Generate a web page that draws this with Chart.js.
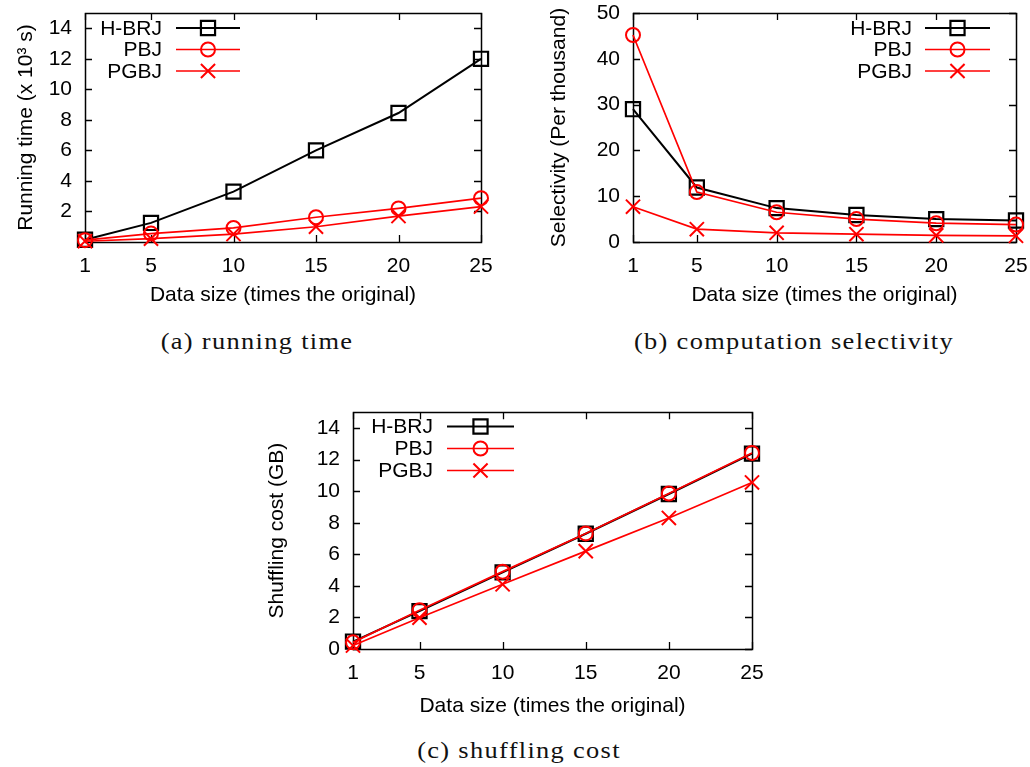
<!DOCTYPE html>
<html>
<head>
<meta charset="utf-8">
<script src="https://cdn.jsdelivr.net/npm/chart.js@4.4.1/dist/chart.umd.min.js"></script>
<style>
  html, body { margin: 0; padding: 0; background: #fff; }
  body { width: 1030px; height: 767px; position: relative; overflow: hidden; }
  .panel { position: absolute; }
  .cap { position: absolute; font-family: "Liberation Serif", serif; font-size: 24px; letter-spacing: 1.2px; color: #111; white-space: nowrap; transform: translate(-50%, -50%) scaleX(1.1); }
</style>
</head>
<body>
<div class="panel" id="pa" style="left:0px;top:0px;width:500px;height:320px;"><canvas id="ca"></canvas></div>
<div class="panel" id="pb" style="left:520px;top:0px;width:510px;height:320px;"><canvas id="cb"></canvas></div>
<div class="panel" id="pc" style="left:260px;top:400px;width:520px;height:330px;"><canvas id="cc"></canvas></div>
<div class="cap" style="left:257px;top:341px;">(a) running time</div>
<div class="cap" style="left:794px;top:341px;">(b) computation selectivity</div>
<div class="cap" style="left:519px;top:750px;">(c) shuffling cost</div>
<script>
// ---- data ----
const seriesNames = ["H-BRJ", "PBJ", "PGBJ"];
const dataSizes = [1, 5, 10, 15, 20, 25];
const xTickValues = [1, 5, 10, 15, 20, 25];

// (a) running time (x 10^3 s)
const runHBRJ = [0.15, 1.25, 3.3, 6.0, 8.45, 12.0];
const runPBJ  = [0.12, 0.55, 0.92, 1.62, 2.2, 2.87];
const runPGBJ = [0.05, 0.22, 0.52, 1.0, 1.7, 2.32];
const yTicksA = [2, 4, 6, 8, 10, 12, 14];

// (b) computation selectivity (per thousand)
const selHBRJ = [29.0, 11.9, 7.4, 5.9, 5.0, 4.7];
const selPBJ  = [45.2, 10.9, 6.5, 5.0, 4.1, 3.8];
const selPGBJ = [7.7, 2.8, 2.0, 1.7, 1.45, 1.35];
const yTicksB = [0, 10, 20, 30, 40, 50];

// (c) shuffling cost (GB)
const shufHBRJ = [0.47, 2.4, 4.85, 7.3, 9.82, 12.38];
const shufPBJ  = [0.42, 2.45, 4.9, 7.32, 9.85, 12.42];
const shufPGBJ = [0.22, 1.98, 4.1, 6.2, 8.3, 10.55];
const yTicksC = [0, 2, 4, 6, 8, 10, 12, 14];

const FONT = "'Liberation Sans', Arial, sans-serif";
const FS = 21;

function pts(vals) { return dataSizes.map((x, i) => ({ x: x, y: vals[i] })); }

function makeDatasets(h, p, g) {
  return [
    { label: seriesNames[0], data: pts(h), borderColor: '#000', backgroundColor: 'rgba(0,0,0,0)',
      borderWidth: 2, pointStyle: 'rect', pointRadius: 10, pointBorderWidth: 2.2, pointBorderColor: '#000',
      pointBackgroundColor: 'rgba(0,0,0,0)', order: 3, clip: false, tension: 0 },
    { label: seriesNames[1], data: pts(p), borderColor: '#ff0000', backgroundColor: 'rgba(0,0,0,0)',
      borderWidth: 1.7, pointStyle: 'circle', pointRadius: 7, pointBorderWidth: 2, pointBorderColor: '#ff0000',
      pointBackgroundColor: 'rgba(0,0,0,0)', order: 2, clip: false, tension: 0 },
    { label: seriesNames[2], data: pts(g), borderColor: '#ff0000', backgroundColor: 'rgba(0,0,0,0)',
      borderWidth: 1.7, pointStyle: 'crossRot', pointRadius: 10, pointBorderWidth: 2, pointBorderColor: '#ff0000',
      pointBackgroundColor: 'rgba(0,0,0,0)', order: 1, clip: false, tension: 0 }
  ];
}

// frame + inward tick marks (gnuplot style), drawn from the library's scales
const framePlugin = {
  id: 'frame',
  beforeDatasetsDraw(chart) {
    const { ctx, chartArea: a, scales } = chart;
    const L = 7;
    ctx.save();
    ctx.strokeStyle = '#000';
    ctx.lineWidth = 1.3;
    ctx.beginPath();
    scales.x.ticks.forEach(t => {
      const px = Math.round(scales.x.getPixelForValue(t.value)) + 0.5;
      ctx.moveTo(px, a.bottom); ctx.lineTo(px, a.bottom - L);
      ctx.moveTo(px, a.top); ctx.lineTo(px, a.top + L);
    });
    scales.y.ticks.forEach(t => {
      const py = Math.round(scales.y.getPixelForValue(t.value)) + 0.5;
      ctx.moveTo(a.left, py); ctx.lineTo(a.left + L, py);
      ctx.moveTo(a.right, py); ctx.lineTo(a.right - L, py);
    });
    ctx.stroke();
    ctx.lineWidth = 1.5;
    ctx.strokeRect(Math.round(a.left) + 0.5, Math.round(a.top) + 0.5,
                   Math.round(a.right - a.left), Math.round(a.bottom - a.top));
    ctx.restore();
  }
};

// gnuplot-like key: right-aligned text followed by a line sample with its marker
const keyPlugin = {
  id: 'key',
  afterDatasetsDraw(chart, args, opts) {
    const { ctx } = chart;
    ctx.save();
    ctx.font = FS + 'px ' + FONT;
    ctx.textAlign = 'right';
    ctx.textBaseline = 'middle';
    chart.data.datasets.forEach((ds, i) => {
      const y = opts.y0 + i * opts.dy;
      ctx.fillStyle = '#000';
      ctx.fillText(ds.label, opts.textRight, y + 1);
      ctx.strokeStyle = ds.borderColor;
      ctx.lineWidth = ds.borderWidth;
      ctx.beginPath();
      ctx.moveTo(opts.x1, y); ctx.lineTo(opts.x2, y);
      ctx.stroke();
      ctx.lineWidth = ds.pointBorderWidth;
      ctx.fillStyle = 'rgba(0,0,0,0)';
      Chart.helpers.drawPoint(ctx, {
        pointStyle: ds.pointStyle, radius: ds.pointRadius, rotation: 0, borderWidth: ds.pointBorderWidth
      }, (opts.x1 + opts.x2) / 2, y);
    });
    ctx.restore();
  }
};

function zeroPad(ax) { ax.paddingTop = 0; ax.paddingBottom = 0; ax.paddingLeft = 0; ax.paddingRight = 0; }

function makeChart(id, datasets, cfg) {
  const W = cfg.W, H = cfg.H;
  return new Chart(document.getElementById(id), {
    type: 'line',
    data: { datasets: datasets },
    plugins: [framePlugin, keyPlugin],
    options: {
      responsive: true,
      maintainAspectRatio: false,
      animation: false,
      events: [],
      layout: { padding: { left: 0, top: cfg.top, right: W - cfg.right, bottom: 0 } },
      plugins: {
        legend: { display: false },
        tooltip: { enabled: false },
        key: cfg.key
      },
      scales: {
        x: {
          type: 'linear', min: 1, max: 25,
          afterBuildTicks: ax => { ax.ticks = xTickValues.map(v => ({ value: v })); },
          afterFit: ax => { ax.height = H - cfg.bottom; zeroPad(ax); },
          grid: { display: false, drawTicks: false },
          border: { display: false },
          ticks: { color: '#000', font: { family: FONT, size: FS }, padding: 12, maxRotation: 0, autoSkip: false,
                   callback: v => String(v) },
          title: { display: true, text: 'Data size (times the original)', color: '#000',
                   font: { family: FONT, size: FS }, padding: { top: 0, bottom: cfg.xTitlePad } }
        },
        y: {
          type: 'linear', min: cfg.ymin, max: cfg.ymax,
          afterBuildTicks: ax => { ax.ticks = cfg.yTicks.map(v => ({ value: v })); },
          afterFit: ax => { ax.width = cfg.left; zeroPad(ax); },
          grid: { display: false, drawTicks: false },
          border: { display: false },
          ticks: { color: '#000', font: { family: FONT, size: FS }, padding: 13, autoSkip: false,
                   callback: v => String(v) },
          title: { display: true, text: cfg.yTitle, color: '#000',
                   font: { family: FONT, size: FS }, padding: { top: cfg.yTitlePad, bottom: 0 } }
        }
      }
    }
  });
}

makeChart('ca', makeDatasets(runHBRJ, runPBJ, runPGBJ), {
  W: 500, H: 320, left: 85, right: 481, top: 13, bottom: 242,
  ymin: 0, ymax: 15, yTicks: yTicksA, yTitle: 'Running time (x 10³ s)', yTitlePad: 14, xTitlePad: 12,
  key: { textRight: 162, x1: 176, x2: 240, y0: 28, dy: 21.5 }
});
makeChart('cb', makeDatasets(selHBRJ, selPBJ, selPGBJ), {
  W: 510, H: 320, left: 113, right: 496, top: 13, bottom: 242,
  ymin: 0, ymax: 50, yTicks: yTicksB, yTitle: 'Selectivity (Per thousand)', yTitlePad: 27, xTitlePad: 12,
  key: { textRight: 392, x1: 405, x2: 470, y0: 28, dy: 21.5 }
});
makeChart('cc', makeDatasets(shufHBRJ, shufPBJ, shufPGBJ), {
  W: 520, H: 330, left: 93, right: 492, top: 11, bottom: 249,
  ymin: 0, ymax: 15, yTicks: yTicksC, yTitle: 'Shuffling cost (GB)', yTitlePad: 5, xTitlePad: 11,
  key: { textRight: 173, x1: 187, x2: 254, y0: 26.5, dy: 22 }
});
</script>
</body>
</html>
